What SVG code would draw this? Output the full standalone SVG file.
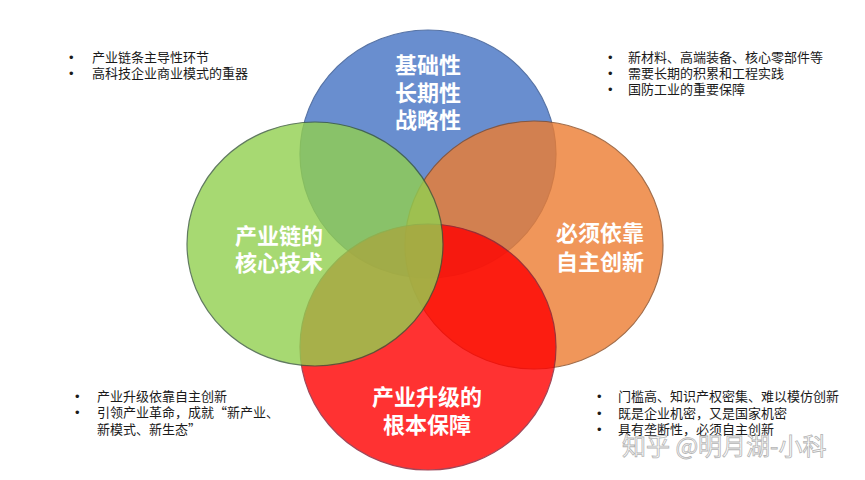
<svg xmlns="http://www.w3.org/2000/svg" width="865" height="480" viewBox="0 0 865 480">
<style>
.c{opacity:0.8;stroke-width:1.2}
.lbl{font-family:"Noto Sans CJK SC","Noto Sans",sans-serif;font-size:22px;font-weight:bold;fill:#fff;text-anchor:middle}
.bt{font-family:"Noto Sans CJK SC","Noto Sans",sans-serif;font-size:13px;fill:#1a1a1a}
.bu{font-family:"Liberation Sans",Arial,sans-serif;font-size:13px;fill:#1a1a1a}
.wm{font-family:"Noto Sans CJK SC","Noto Sans",sans-serif;font-size:24px;fill:#fff;stroke:#b4b4b4;stroke-width:0.8}
</style>
<rect width="865" height="480" fill="#fff"/>
<g id="blue">
<ellipse class="c" cx="428" cy="154" rx="128" ry="124" fill="#4472C4" stroke="#2F528F"/>
</g>
<g id="orange">
<ellipse class="c" cx="534" cy="245" rx="129" ry="124" fill="#ED7D31" stroke="#8a4a20"/>
</g>
<g id="red">
<ellipse class="c" cx="428" cy="347" rx="128" ry="123" fill="#FF0000" stroke="#8a1a30"/>
</g>
<g id="green">
<ellipse class="c" cx="315" cy="244" rx="128" ry="122" fill="#92D050" stroke="#3a5a3a"/>
</g>
<g id="labels">
<text class="lbl" x="428" y="73">基础性</text>
<text class="lbl" x="428" y="101">长期性</text>
<text class="lbl" x="428" y="128">战略性</text>
<text class="lbl" x="279" y="244">产业链的</text>
<text class="lbl" x="279" y="271">核心技术</text>
<text class="lbl" x="600" y="241">必须依靠</text>
<text class="lbl" x="600" y="270">自主创新</text>
<text class="lbl" x="427" y="405">产业升级的</text>
<text class="lbl" x="427" y="433">根本保障</text>
</g>
<g id="notes-top-left">
<text class="bu" x="69" y="62">•</text><text class="bt" x="92" y="62">产业链条主导性环节</text>
<text class="bu" x="69" y="78">•</text><text class="bt" x="92" y="78">高科技企业商业模式的重器</text>
</g>
<g id="notes-top-right">
<text class="bu" x="608" y="62">•</text><text class="bt" x="628" y="62">新材料、高端装备、核心零部件等</text>
<text class="bu" x="608" y="78">•</text><text class="bt" x="628" y="78">需要长期的积累和工程实践</text>
<text class="bu" x="608" y="94">•</text><text class="bt" x="628" y="94">国防工业的重要保障</text>
</g>
<g id="notes-bottom-left">
<text class="bu" x="75" y="401">•</text><text class="bt" x="97" y="401">产业升级依靠自主创新</text>
<text class="bu" x="75" y="417">•</text><text class="bt" x="97" y="417">引领产业革命，成就“新产业、</text>
<text class="bt" x="97" y="434">新模式、新生态”</text>
</g>
<g id="notes-bottom-right">
<text class="bu" x="597" y="401">•</text><text class="bt" x="618" y="401">门槛高、知识产权密集、难以模仿创新</text>
<text class="bu" x="597" y="418">•</text><text class="bt" x="618" y="418">既是企业机密，又是国家机密</text>
<text class="bu" x="597" y="434">•</text><text class="bt" x="618" y="434">具有垄断性，必须自主创新</text>
</g>
<g id="connectors"></g>
<text class="wm" x="622" y="455">知乎 @明月湖-小科</text>
</svg>
